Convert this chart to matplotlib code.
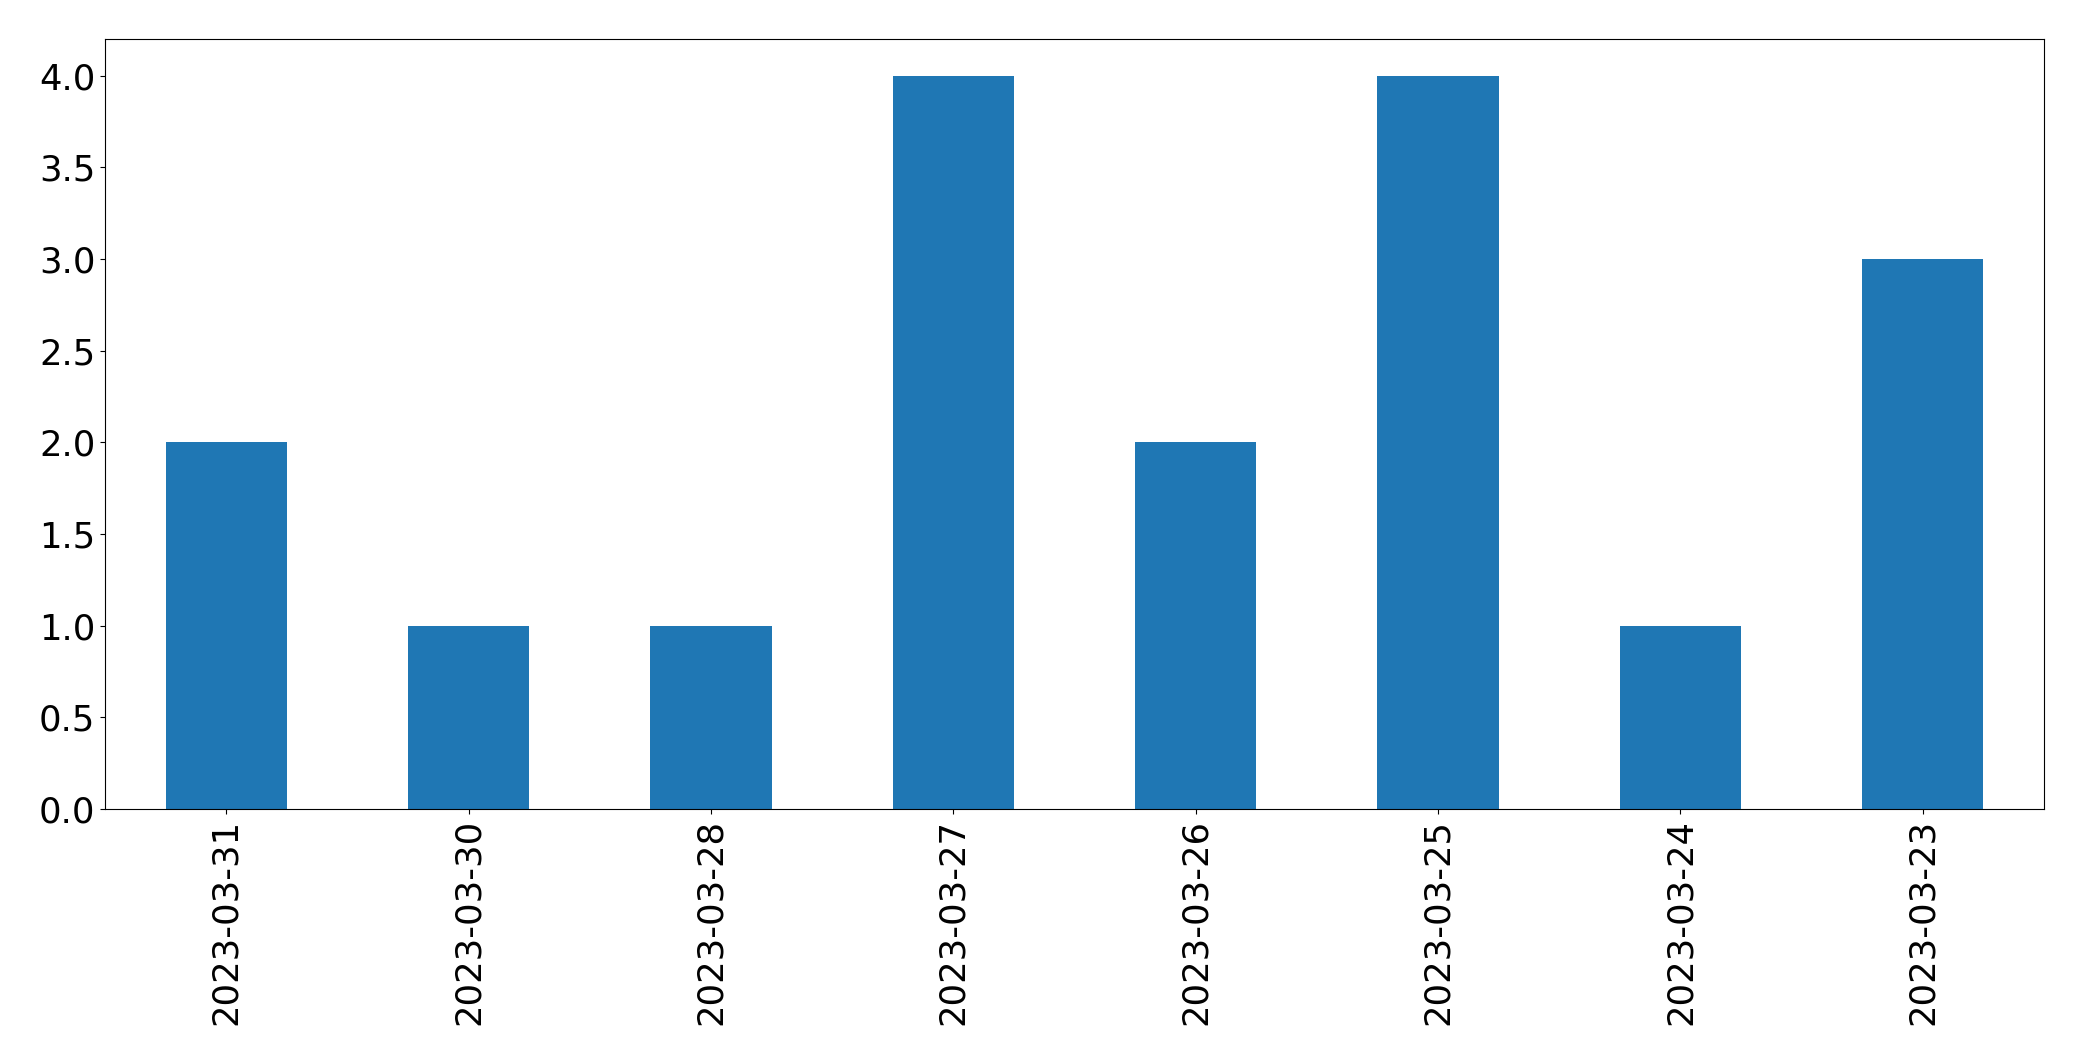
import matplotlib
matplotlib.use("Agg")
import matplotlib.pyplot as plt
import pandas as pd

dates = ["2023-03-31", "2023-03-30", "2023-03-28", "2023-03-27",
         "2023-03-26", "2023-03-25", "2023-03-24", "2023-03-23"]
counts = [2, 1, 1, 4, 2, 4, 1, 3]

s = pd.Series(counts, index=dates)

fig = plt.figure(figsize=(20.82, 10.61), dpi=100)
ax = fig.add_axes([105/2082, 1 - 809/1061, (2044-105)/2082, (809-39)/1061])
s.plot(kind="bar", ax=ax, color="#1f77b4", fontsize=25.5)
ax.tick_params(axis="x", labelrotation=90)
fig.savefig("out.png", dpi=100)
